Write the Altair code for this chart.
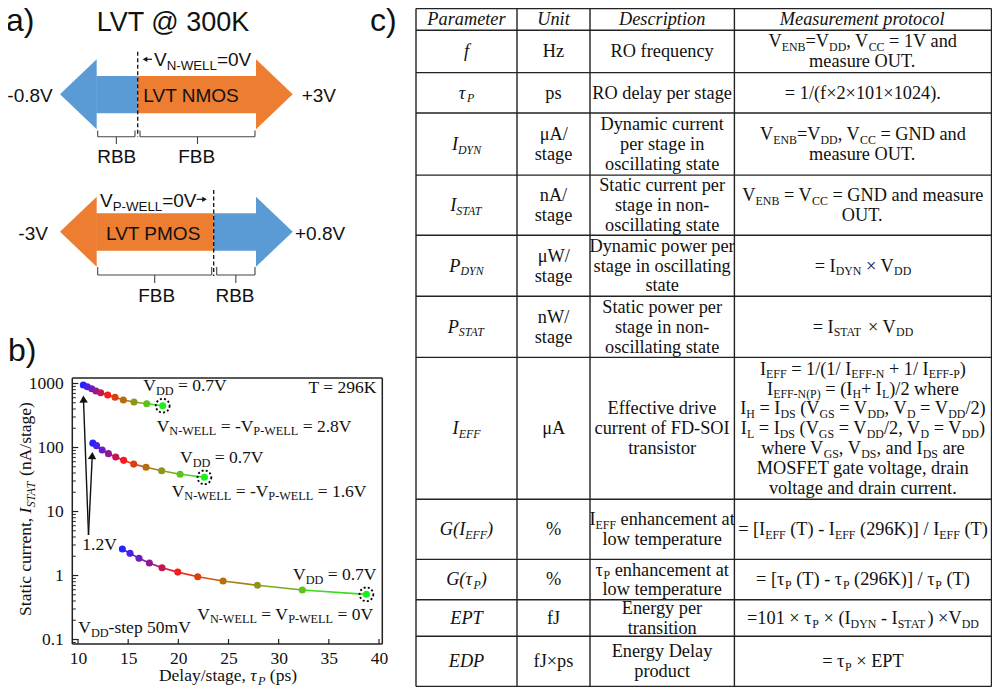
import re
import altair as alt
import pandas as pd

# ---------------- Panel b: values ----------------
vdd_steps = [1.20, 1.15, 1.10, 1.05, 1.00, 0.95, 0.90, 0.85, 0.80, 0.75, 0.70]
bias_labels = ["2.8V", "1.6V", "0V"]
tau_28 = [10.53, 10.93, 11.37, 11.79, 12.26, 12.96, 13.69, 14.52, 15.58, 16.85, 18.44]
istat_28 = [947, 891, 829, 764, 718, 661, 609, 552, 514, 482, 450]
tau_16 = [11.48, 11.85, 12.41, 13.03, 13.76, 14.55, 15.55, 16.78, 18.34, 20.18, 22.60]
istat_16 = [117, 107, 91.4, 80.2, 71.0, 63.0, 55.0, 49.1, 43.4, 38.3, 34.2]
tau_0 = [14.42, 15.18, 16.08, 17.11, 18.37, 19.94, 21.93, 24.46, 27.88, 32.36, 38.75]
istat_0 = [2.59, 2.22, 1.86, 1.57, 1.32, 1.13, 0.958, 0.820, 0.703, 0.594, 0.508]
step_colors = ["#2424ff", "#4a1fe6", "#6c1cc0", "#8e1a90", "#c8144e", "#f41c1c",
               "#dc3e10", "#b86c10", "#8e961a", "#5cc21c", "#1cf01c"]
x_tick_values = [10, 15, 20, 25, 30, 35, 40]
y_tick_values = [0.1, 1, 10, 100, 1000]
y_minor_values = [m * d for d in [0.01, 0.1, 1, 10, 100] for m in range(2, 10)]

# ---------------- Panel c: table content ----------------
tbl_header = ["Parameter", "Unit", "Description", "Measurement protocol"]
tbl_param = ["f", "τ_{P}", "I_{DYN}", "I_{STAT}", "P_{DYN}", "P_{STAT}", "I_{EFF}",
             "G(I_{EFF})", "G(τ_{P})", "EPT", "EDP"]
tbl_unit = [["Hz"], ["ps"], ["μA/", "stage"], ["nA/", "stage"], ["μW/", "stage"],
            ["nW/", "stage"], ["μA"], ["%"], ["%"], ["fJ"], ["fJ×ps"]]
tbl_desc = [["RO frequency"], ["RO delay per stage"],
            ["Dynamic current", "per stage in", "oscillating state"],
            ["Static current per", "stage in non-", "oscillating state"],
            ["Dynamic power per", "stage in oscillating", "state"],
            ["Static power per", "stage in non-", "oscillating state"],
            ["Effective drive", "current of FD-SOI", "transistor"],
            ["I_{EFF} enhancement at", "low temperature"],
            ["τ_{P} enhancement at", "low temperature"],
            ["Energy per", "transition"],
            ["Energy Delay", "product"]]
tbl_proto = [["V_{ENB}=V_{DD}, V_{CC} = 1V and", "measure OUT."],
             ["= 1/(f×2×101×1024)."],
             ["V_{ENB}=V_{DD}, V_{CC} = GND and", "measure OUT."],
             ["V_{ENB} = V_{CC} = GND and measure", "OUT."],
             ["= I_{DYN} × V_{DD}"],
             ["= I_{STAT} × V_{DD}"],
             ["I_{EFF} = 1/(1/ I_{EFF-N} + 1/ I_{EFF-P})",
              "I_{EFF-N(P)} = (I_{H}+ I_{L})/2 where",
              "I_{H} = I_{DS} (V_{GS} = V_{DD}, V_{D} = V_{DD}/2)",
              "I_{L} = I_{DS} (V_{GS} = V_{DD}/2, V_{D} = V_{DD})",
              "where V_{GS}, V_{DS}, and I_{DS} are",
              "MOSFET gate voltage, drain",
              "voltage and drain current."],
             ["= [I_{EFF} (T) - I_{EFF} (296K)] / I_{EFF} (T)"],
             ["= [τ_{P} (T) - τ_{P} (296K)] / τ_{P} (T)"],
             ["=101 × τ_{P} × (I_{DYN} - I_{STAT}) ×V_{DD}"],
             ["= τ_{P} × EPT"]]

# ---------------- layout (reference pixel space) ----------------
col_edges = [416, 517, 590, 734.4, 991.5]
row_edges = [8.5, 30.2, 72.6, 113.0, 175.1, 235.2, 296.3, 357.4, 499.3, 559.4, 599.8, 636.3, 686.5]
W, H = 984, 679
CX = alt.Scale(domain=[8, 8 + W], range=[0, W], nice=False, zero=False)
CY = alt.Scale(domain=[8, 8 + H], range=[0, H], nice=False, zero=False)
BLUE, ORANGE, INK = "#5b9bd5", "#ed7d31", "#111111"

# ---------------- font metrics (Times / Arial compatible) ----------------
UP = "ABCDEFGHIJKLMNOPQRSTUVWXYZ"
LO = "abcdefghijklmnopqrstuvwxyz"
def mk(up, lo, extra):
    d = dict(zip(UP, up)); d.update(zip(LO, lo)); d.update(extra); return d
_punct_t = {" ": 250, "(": 333, ")": 333, "+": 564, ",": 250, "-": 333, ".": 250, "/": 278,
            "=": 564, "[": 333, "]": 333, "%": 833, "×": 564, "μ": 500, "τ": 440}
TIMES = mk([722,667,667,722,611,556,722,722,333,389,722,611,889,722,722,556,722,667,556,611,722,722,944,722,722,611],
           [444,500,444,500,444,333,500,500,278,278,500,278,778,500,500,500,500,333,389,278,500,500,722,500,500,444], _punct_t)
TIMES_I = mk([611,611,667,722,611,611,722,722,333,444,667,556,833,667,722,611,722,611,500,556,722,611,833,611,556,556],
             [500,500,444,500,444,278,500,500,278,278,444,278,722,500,500,500,500,389,389,278,500,444,667,444,444,389], _punct_t)
ARIAL = mk([667,667,722,722,667,611,778,722,278,500,667,556,833,722,778,667,778,722,667,611,722,667,944,667,667,611],
           [556,556,500,556,556,278,556,556,222,222,500,222,833,556,556,556,556,333,500,278,556,500,722,500,500,500],
           {" ": 278, "-": 333, ".": 278, "=": 584, "+": 584, "@": 1015, "(": 333, ")": 333})
for d in (TIMES, TIMES_I):
    d.update({c: 500 for c in "0123456789"})
ARIAL.update({c: 556 for c in "0123456789"})

def width(t, fs, font, italic):
    tbl = ARIAL if font == "sans" else (TIMES_I if italic else TIMES)
    return sum(tbl.get(ch, 500) for ch in t) * fs / 1000.0

def parse(s):
    out = []
    for part in re.split(r"([_!?]\{[^}]*\})", s):
        if not part:
            continue
        if re.fullmatch(r"[_!?]\{[^}]*\}", part):
            k = part[0]
            out.append((part[2:-1], k in "_?", k in "!?"))
        else:
            out.append((part, False, False))
    return out

texts = []
def rich(s, x, y, fs, font="serif", italic=False, align="left", angle=0,
         sub_ratio=0.65, sub_shift=0.2, color=INK):
    segs = parse(s)
    ws = [width(t, fs * (sub_ratio if sb else 1), font, italic or fi) for t, sb, fi in segs]
    tot = sum(ws)
    off = 0 if align == "left" else (-tot / 2 if align == "center" else -tot)
    for (t, sb, fi), w in zip(segs, ws):
        it = italic or fi
        f = fs * sub_ratio if sb else fs
        sh = fs * sub_shift if sb else 0
        lead = len(t) - len(t.lstrip(" "))
        core = t.strip(" ")
        pos = off + width(" " * lead, f, font, it)
        if core:
            if angle == 0:
                px, py = x + pos, y + sh
            else:
                px, py = x + sh, y - pos
            texts.append(dict(x=px, y=py, t=core, fs=f, a=angle, font=font,
                              it="italic" if it else "normal", c=color))
        off += w

# ---------------- Panel a: diagram ----------------
rects = [(96.2, 76, 137.7, 113.3, BLUE), (137.7, 76, 257.2, 113.3, ORANGE),
         (96.2, 213.3, 213.7, 250.7, ORANGE), (213.7, 213.3, 257.2, 250.7, BLUE)]
# arrow heads: triangles drawn as path symbols (unit box -1..1 scaled by half-height)
HEAD_H, HEAD_W = 35.0, 36.7
xb_u = -1 + HEAD_W / HEAD_H
LEFT_HEAD = "M -1 0 L %.4f -1 L %.4f 1 Z" % (xb_u, xb_u)
RIGHT_HEAD = "M 1 0 L %.4f -1 L %.4f 1 Z" % (-xb_u, -xb_u)
heads = [dict(x=60 + HEAD_H, y=94.3, sh=LEFT_HEAD, c=BLUE),
         dict(x=292.7 - HEAD_H, y=94.3, sh=RIGHT_HEAD, c=ORANGE),
         dict(x=60 + HEAD_H, y=231.7, sh=LEFT_HEAD, c=ORANGE),
         dict(x=292.7 - HEAD_H, y=231.7, sh=RIGHT_HEAD, c=BLUE)]

rules = []
def rule(x1, y1, x2, y2, c="#222", sw=1.3):
    rules.append(dict(x=x1, y=y1, x2=x2, y2=y2, c=c, sw=sw))
def bracket(x1, x2, ytop, ymid, ytick):
    xm = (x1 + x2) / 2
    for seg in [(x1, ytop, x1, ymid), (x1, ymid, x2, ymid), (x2, ytop, x2, ymid), (xm, ymid, xm, ytick)]:
        rule(*seg, c="#444", sw=1.1)
bracket(97.7, 135, 130.5, 136.7, 144)
bracket(140, 255, 130.5, 136.7, 144)
bracket(97.7, 211.7, 267, 275, 283)
bracket(216.7, 255, 267, 275, 283)
rule(146, 59.3, 152, 59.3, c=INK, sw=1.2)
rule(196.7, 199.3, 203, 199.3, c=INK, sw=1.2)
dashed = [dict(x=137.7, y=51.7, x2=137.7, y2=136.7), dict(x=213.7, y=190, x2=213.7, y2=276)]
tris = [dict(x=145, y=59.3, sh="triangle-left", sz=28, a=0),
        dict(x=204.5, y=199.3, sh="triangle-right", sz=28, a=0),
        dict(x=83.5, y=399.0, sh="triangle-up", sz=70, a=358),
        dict(x=92.2, y=455.5, sh="triangle-up", sz=70, a=3)]

rich("a)", 6, 31, 32, font="sans")
rich("LVT @ 300K", 96.7, 31, 27, font="sans")
rich("V_{N-WELL}=0V", 154, 65.5, 19, font="sans", sub_ratio=0.7, sub_shift=0.22)
rich("-0.8V", 7.3, 101.7, 19, font="sans")
rich("LVT NMOS", 143.3, 101.7, 19, font="sans")
rich("+3V", 301.7, 101.7, 19, font="sans")
rich("RBB", 116.7, 163, 19, font="sans", align="center")
rich("FBB", 196.7, 163, 19, font="sans", align="center")
rich("V_{P-WELL}=0V", 100, 207.3, 19, font="sans", sub_ratio=0.7, sub_shift=0.22)
rich("-3V", 18.3, 240, 19, font="sans")
rich("LVT PMOS", 106, 240, 19, font="sans")
rich("+0.8V", 295, 240, 19, font="sans")
rich("FBB", 156.7, 301.5, 19, font="sans", align="center")
rich("RBB", 235, 301.5, 19, font="sans", align="center")
rich("b)", 8, 361, 32, font="sans")
rich("c)", 370, 31, 32, font="sans")

# ---------------- Panel b: frame, arrows, annotations ----------------
PL, PR, PT, PB = 72.3, 382.3, 378, 644
for seg in [(PL, PT, PR, PT), (PL, PB, PR, PB), (PL, PT, PL, PB), (PR, PT, PR, PB)]:
    rule(*seg, c="#222", sw=1.5)
rule(88.5, 535, 83.5, 400, c=INK, sw=1.4)
rule(88.5, 535, 92.2, 457, c=INK, sw=1.4)
BF = 17.5
for s, x, y in [("V_{DD} = 0.7V", 143.3, 391), ("V_{N-WELL} = -V_{P-WELL} = 2.8V", 156.7, 431.7),
                ("V_{DD} = 0.7V", 180, 463), ("V_{N-WELL} = -V_{P-WELL} = 1.6V", 171.7, 496.7),
                ("V_{DD} = 0.7V", 293, 580), ("V_{N-WELL} = V_{P-WELL} = 0V", 197.3, 619.5),
                ("V_{DD}-step 50mV", 78.3, 633.3), ("1.2V", 82.3, 550)]:
    rich(s, x, y, BF, sub_ratio=0.7, sub_shift=0.2)
rich("T = 296K", 376.7, 393.3, BF, align="right")
rich("Delay/stage, !{τ}?{P} (ps)", 228, 681, BF, align="center", sub_ratio=0.7)
rich("Static current, !{I}?{STAT} (nA/stage)", 31, 509, BF, align="center", angle=270, sub_ratio=0.7)

# ---------------- Panel c: table ----------------
for yy in row_edges:
    rule(col_edges[0], yy, col_edges[-1], yy, c="#222", sw=1.4)
for xx in col_edges:
    rule(xx, row_edges[0], xx, row_edges[-1], c="#222", sw=1.4)
TF = 18.3
def cell(lines, col, row, italic=False, lh=19.8):
    cx = (col_edges[col] + col_edges[col + 1]) / 2
    cy = (row_edges[row] + row_edges[row + 1]) / 2
    n = len(lines)
    for k, ln in enumerate(lines):
        rich(ln, cx, cy + (k - (n - 1) / 2) * lh + 0.32 * TF, TF, italic=italic, align="center")
for j, h in enumerate(tbl_header):
    cell([h], j, 0, italic=True)
for i in range(len(tbl_param)):
    cell([tbl_param[i]], 0, i + 1, italic=True)
    cell(tbl_unit[i], 1, i + 1)
    cell(tbl_desc[i], 2, i + 1)
    cell(tbl_proto[i], 3, i + 1)

# ---------------- build layers ----------------
def X(f="x"): return alt.X(f + ":Q", scale=CX, axis=None)
def Y(f="y"): return alt.Y(f + ":Q", scale=CY, axis=None)
NOC = lambda f="c": alt.Color(f + ":N", scale=None)

rect_layer = alt.Chart(pd.DataFrame(rects, columns=["x", "y", "x2", "y2", "c"])).mark_rect().encode(
    x=X(), x2="x2:Q", y=Y(), y2="y2:Q", color=NOC())
head_layer = alt.Chart(pd.DataFrame(heads)).mark_point(filled=True, opacity=1, size=(2 * HEAD_H) ** 2,
                                                       strokeWidth=0).encode(
    x=X(), y=Y(), shape=alt.Shape("sh:N", scale=None), color=NOC())
rule_layer = alt.Chart(pd.DataFrame(rules)).mark_rule().encode(
    x=X(), x2="x2:Q", y=Y(), y2="y2:Q", color=NOC(),
    strokeWidth=alt.StrokeWidth("sw:Q", scale=None))
dash_layer = alt.Chart(pd.DataFrame(dashed)).mark_rule(strokeDash=[4, 2.5], strokeWidth=1.3, color=INK).encode(
    x=X(), x2="x2:Q", y=Y(), y2="y2:Q")
tri_layer = alt.Chart(pd.DataFrame(tris)).mark_point(filled=True, opacity=1, color=INK).encode(
    x=X(), y=Y(), shape=alt.Shape("sh:N", scale=None), size=alt.Size("sz:Q", scale=None),
    angle=alt.Angle("a:Q", scale=None))

tdf = pd.DataFrame(texts)
text_layers = []
for (font, it), g in tdf.groupby(["font", "it"]):
    fam = "Liberation Sans" if font == "sans" else "Liberation Serif"
    text_layers.append(
        alt.Chart(g.reset_index(drop=True)).mark_text(align="left", baseline="alphabetic", font=fam, fontStyle=it).encode(
            x=X(), y=Y(), text="t:N", size=alt.Size("fs:Q", scale=None),
            angle=alt.Angle("a:Q", scale=None), color=NOC()))

# ---------------- Panel b chart ----------------
BX = alt.Scale(domain=[9.43, 40.33], range=[PL - 8, PR - 8], nice=False, zero=False)
BY = alt.Scale(type="log", domain=[0.0851, 1219], range=[PB - 8, PT - 8], nice=False)
XAX = alt.Axis(orient="bottom", offset=-(H - (PB - 8)), values=x_tick_values, ticks=False, tickSize=0,
               domain=False, grid=False, labelFont="Liberation Serif", labelFontSize=BF, labelColor=INK,
               labelPadding=5, labelFlush=False, labelOverlap=False, title="", format="d")
YAX = alt.Axis(orient="left", offset=-(PL - 8), values=y_tick_values, ticks=False, tickSize=0,
               domain=False, grid=False, labelFont="Liberation Serif", labelFontSize=BF, labelColor=INK,
               labelPadding=9, labelFlush=False, labelOverlap=False, title="",
               labelExpr="datum.value < 1 ? format(datum.value, '.1f') : format(datum.value, 'd')")
col_scale = alt.Scale(domain=sorted(vdd_steps), range=list(reversed(step_colors)), interpolate="rgb")

pts, segs, ends = [], [], []
for lab, tau, ist in zip(bias_labels, [tau_28, tau_16, tau_0], [istat_28, istat_16, istat_0]):
    for i in range(len(tau)):
        pts.append(dict(series=lab, tau=tau[i], istat=ist[i], vdd=vdd_steps[i]))
        if i + 1 < len(tau):
            segs.append(dict(series=lab, tau=tau[i], istat=ist[i], tau2=tau[i + 1], istat2=ist[i + 1],
                             vdd=(vdd_steps[i] + vdd_steps[i + 1]) / 2))
    ends.append(dict(series=lab, tau=tau[-1], istat=ist[-1]))

bx = alt.X("tau:Q", scale=BX, axis=XAX)
by = alt.Y("istat:Q", scale=BY, axis=YAX)
seg_layer = alt.Chart(pd.DataFrame(segs)).mark_rule(strokeWidth=1.6).encode(
    x=bx, x2="tau2:Q", y=by, y2="istat2:Q", color=alt.Color("vdd:Q", scale=col_scale, legend=None))
pt_layer = alt.Chart(pd.DataFrame(pts)).mark_circle(size=50, opacity=1).encode(
    x=bx, y=by, color=alt.Color("vdd:Q", scale=col_scale, legend=None))
end_layer = alt.Chart(pd.DataFrame(ends)).mark_point(shape="circle", size=190, strokeDash=[2, 2.2],
                                                     strokeWidth=1.8, color="#000", filled=False, opacity=1).encode(x=bx, y=by)
ymaj = alt.Chart(pd.DataFrame({"istat": y_tick_values})).mark_rule(strokeWidth=1.2, color="#222").encode(
    y=by, x=alt.value(PL - 8), x2=alt.value(PL - 8 + 6))
ymin = alt.Chart(pd.DataFrame({"istat": [v for v in y_minor_values if 0.0851 < v < 1219]})).mark_rule(
    strokeWidth=1.0, color="#222").encode(y=by, x=alt.value(PL - 8), x2=alt.value(PL - 8 + 3.5))
xmaj = alt.Chart(pd.DataFrame({"tau": x_tick_values})).mark_rule(strokeWidth=1.2, color="#222").encode(
    x=bx, y=alt.value(PB - 8), y2=alt.value(PB - 8 - 5))
panel_b = alt.layer(seg_layer, pt_layer, end_layer, ymaj, ymin, xmaj)

chart = alt.layer(rect_layer, head_layer, dash_layer, rule_layer, tri_layer, panel_b, *text_layers).resolve_scale(
    x="independent", y="independent", color="independent", size="independent",
    shape="independent", angle="independent", strokeWidth="independent"
).properties(width=W, height=H, autosize=alt.AutoSizeParams(type="none"), padding=0,
             background="white").configure_view(strokeWidth=0)

chart.save("out.html", embed_options={"renderer": "svg", "actions": False})
